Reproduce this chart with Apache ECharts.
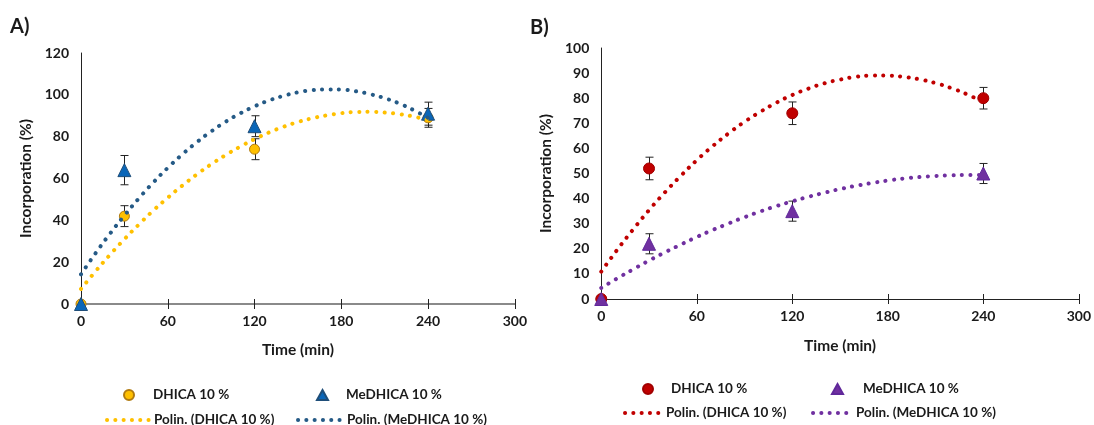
<!DOCTYPE html>
<html>
<head>
<meta charset="utf-8">
<script src="https://cdn.jsdelivr.net/npm/echarts@6/dist/echarts.min.js"></script>
<style>
  html, body { margin: 0; padding: 0; background: #fff; }
  #wrap { position: relative; width: 1094px; height: 425px; }
  #chartA { position: absolute; left: 0; top: 0; width: 530px; height: 425px; }
  #chartB { position: absolute; left: 530px; top: 0; width: 564px; height: 425px; }
</style>
</head>
<body>
<div id="wrap">
  <div id="chartA"></div>
  <div id="chartB"></div>
</div>
<script>
// Sampling times (min)
const times = [0, 30, 120, 240];

// Panel A: measured incorporation (%) and standard deviations
const aDhica = [0, 42, 74, 89];
const aDhicaErr = [0, 5, 5, 4.5];
const aMedhica = [0, 64, 85, 91];
const aMedhicaErr = [0, 7, 5, 5.5];

// Panel B: measured incorporation (%) and standard deviations
const bDhica = [0, 52, 74, 80];
const bDhicaErr = [0, 4.5, 4.5, 4.3];
const bMedhica = [0, 22, 35, 50];
const bMedhicaErr = [0, 4, 4, 4];

// Polynomial trend lines, sampled every 10 min
const trendTimes = [0,10,20,30,40,50,60,70,80,90,100,110,120,130,140,150,160,170,180,190,200,210,220,230,240];
const aDhicaTrend = [7.2,15.6,23.5,31.0,38.0,44.7,50.8,56.6,61.9,66.8,71.2,75.2,78.8,82.0,84.7,87.0,88.8,90.2,91.2,91.8,91.9,91.5,90.8,89.6,88.0];
const aMedhicaTrend = [14.2,24.2,33.6,42.3,50.5,58.1,65.1,71.5,77.3,82.5,87.1,91.1,94.5,97.3,99.5,101.2,102.2,102.6,102.5,101.7,100.3,98.4,95.9,92.7,89.0];
const bDhicaTrend = [10.9,19.6,27.7,35.4,42.5,49.1,55.3,60.9,66.0,70.6,74.6,78.2,81.3,83.8,85.9,87.4,88.5,89.0,89.0,88.5,87.5,86.0,84.0,81.5,78.4];
const bMedhicaTrend = [4.4,8.2,11.8,15.3,18.6,21.7,24.7,27.5,30.1,32.6,34.9,37.0,38.9,40.7,42.3,43.8,45.1,46.2,47.2,48.0,48.6,49.0,49.3,49.4,49.4];

// Axis ticks
const xTicks = [0, 60, 120, 180, 240, 300];
const aYMax = 120, aYStep = 20;
const bYMax = 100, bYStep = 10;

const FONT = 'Lato, "Open Sans", sans-serif';
const TXT = '#1a1a1a';

function pairs(xs, ys) { return xs.map((x, i) => [x, ys[i]]); }

function errorSeries(ys, errs) {
  return {
    type: 'custom',
    z: 3,
    silent: true,
    data: times.map((t, i) => [t, ys[i] - errs[i], ys[i] + errs[i]]).filter((d, i) => errs[i] > 0),
    renderItem(params, api) {
      const lo = api.coord([api.value(0), api.value(1)]);
      const hi = api.coord([api.value(0), api.value(2)]);
      const x = Math.round(lo[0]) + 0.5;
      const w = 4;
      const st = { stroke: '#222', lineWidth: 1 };
      return {
        type: 'group',
        children: [
          { type: 'line', shape: { x1: x, y1: lo[1], x2: x, y2: hi[1] }, style: st },
          { type: 'line', shape: { x1: x - w, y1: hi[1], x2: x + w, y2: hi[1] }, style: st },
          { type: 'line', shape: { x1: x - w, y1: lo[1], x2: x + w, y2: lo[1] }, style: st }
        ]
      };
    }
  };
}

function trendSeries(name, ys, color) {
  return {
    name, type: 'line', data: pairs(trendTimes, ys), smooth: true,
    symbol: 'none', z: 5, silent: true,
    lineStyle: { color, width: 4, type: [0.1, 8.4], cap: 'round' },
    itemStyle: { color }
  };
}

function pointSeries(name, ys, symbol, size, color, border) {
  return {
    name, type: 'scatter', data: pairs(times, ys), symbol, symbolSize: size, z: 4,
    itemStyle: { color, borderColor: border, borderWidth: 1, opacity: 1 }
  };
}

// One legend box per entry, so each can sit where it belongs
function legendItem(name, left, top, iconW, iconH, gap, isLine) {
  const o = {
    data: [name], left, top, padding: 0, orient: 'horizontal', selectedMode: false,
    itemGap: 0, itemWidth: iconW, itemHeight: iconH,
    textStyle: { fontFamily: FONT, fontWeight: 'bold', fontSize: 13.5, color: TXT, padding: [0, 0, 0, gap] }
  };
  if (isLine) {
    o.itemStyle = { opacity: 0, borderWidth: 0 };
    o.lineStyle = { width: 4, type: [0.1, 8.2], cap: 'round' };
  }
  return o;
}

function build(p) {
  return {
    animation: false,
    backgroundColor: '#fff',
    title: {
      text: p.label, left: p.labelLeft, top: p.labelTop, padding: 0,
      textStyle: { fontFamily: FONT, fontWeight: 'bold', fontSize: 20, color: TXT }
    },
    grid: { left: p.gridLeft, right: p.gridRight, top: p.gridTop, bottom: p.gridBottom },
    xAxis: [{
      type: 'value', min: 0, max: 300, interval: 60,
      name: 'Time (min)', nameLocation: 'middle', nameGap: p.xNameGap,
      nameTextStyle: { fontFamily: FONT, fontWeight: 'bold', fontSize: 15.5, color: TXT },
      axisLine: { show: true, onZero: false, lineStyle: { color: p.xLineColor, width: p.xLineWidth } },
      axisTick: { show: true, length: 5, lineStyle: { color: '#222', width: 1 } },
      axisLabel: { fontFamily: FONT, fontWeight: 'bold', fontSize: 14, color: TXT, margin: 10,
        formatter: v => xTicks.indexOf(v) >= 0 ? String(v) : '' },
      splitLine: { show: false }
    }, {
      // inner half of the crossing tick marks
      type: 'value', min: 0, max: 300, interval: 60, position: 'bottom',
      axisLine: { show: false }, axisLabel: { show: false }, splitLine: { show: false },
      axisTick: { show: true, inside: true, length: 5, lineStyle: { color: '#222', width: 1 } }
    }],
    yAxis: {
      type: 'value', min: 0, max: p.yMax, interval: p.yStep,
      name: 'Incorporation (%)', nameLocation: 'middle', nameGap: p.yNameGap,
      nameTextStyle: { fontFamily: FONT, fontWeight: 'bold', fontSize: 15.5, color: TXT },
      axisLine: { show: true, lineStyle: { color: '#222', width: 1 } },
      axisTick: { show: false },
      axisLabel: { fontFamily: FONT, fontWeight: 'bold', fontSize: 14, color: TXT, margin: 12 },
      splitLine: { show: false }
    },
    legend: p.legend,
    series: p.series
  };
}

const chartA = echarts.init(document.getElementById('chartA'), null, { renderer: 'canvas' });
chartA.setOption(build({
  label: 'A)', labelLeft: 10, labelTop: 17,
  gridLeft: 81, gridRight: 7, gridTop: 53, gridBottom: 121,
  xLineColor: '#8a8a8a', xLineWidth: 2, xNameGap: 38, yNameGap: 47,
  yMax: aYMax, yStep: aYStep,
  legend: [
    legendItem('DHICA 10 %', 123, 388, 10, 10, 14, false),
    legendItem('MeDHICA 10 %', 316, 388, 11, 10, 13, false),
    legendItem('Polin. (DHICA 10 %)', 105, 413, 42, 10, 0, true),
    legendItem('Polin. (MeDHICA 10 %)', 296, 413, 44, 10, 0, true)
  ],
  series: [
    errorSeries(aDhica, aDhicaErr),
    errorSeries(aMedhica, aMedhicaErr),
    pointSeries('DHICA 10 %', aDhica, 'circle', 10, '#FFC000', '#B07A10'),
    pointSeries('MeDHICA 10 %', aMedhica, 'triangle', 13, '#0A66B8', '#1F4E79'),
    trendSeries('Polin. (DHICA 10 %)', aDhicaTrend, '#FFC000'),
    trendSeries('Polin. (MeDHICA 10 %)', aMedhicaTrend, '#255A86')
  ]
}));

const chartB = echarts.init(document.getElementById('chartB'), null, { renderer: 'canvas' });
chartB.setOption(build({
  label: 'B)', labelLeft: 0, labelTop: 18,
  gridLeft: 69, gridRight: 12, gridTop: 48, gridBottom: 126,
  xLineColor: '#222', xLineWidth: 1, xNameGap: 39, yNameGap: 41,
  yMax: bYMax, yStep: bYStep,
  legend: [
    legendItem('DHICA 10 %', 112, 382, 10, 10, 13, false),
    legendItem('MeDHICA 10 %', 301, 382, 11, 10, 15, false),
    legendItem('Polin. (DHICA 10 %)', 93, 406, 36, 10, 0, true),
    legendItem('Polin. (MeDHICA 10 %)', 281, 406, 38, 10, 0, true)
  ],
  series: [
    errorSeries(bDhica, bDhicaErr),
    errorSeries(bMedhica, bMedhicaErr),
    pointSeries('DHICA 10 %', bDhica, 'circle', 11, '#C00000', '#A00000'),
    pointSeries('MeDHICA 10 %', bMedhica, 'triangle', 13, '#7030A0', '#60289A'),
    trendSeries('Polin. (DHICA 10 %)', bDhicaTrend, '#C00000'),
    trendSeries('Polin. (MeDHICA 10 %)', bMedhicaTrend, '#7030A0')
  ]
}));
</script>
</body>
</html>
